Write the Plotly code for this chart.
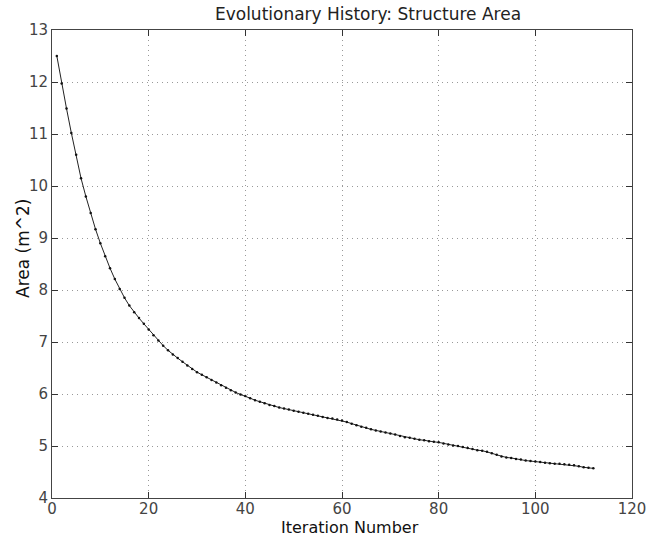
import plotly.graph_objects as go

iterations = list(range(1, 113))
area = [
    12.50, 11.97, 11.49, 11.02, 10.60, 10.15, 9.80, 9.48, 9.17, 8.90,
    8.65, 8.42, 8.21, 8.02, 7.85, 7.70, 7.57, 7.46, 7.35, 7.24,
    7.13, 7.03, 6.93, 6.84, 6.76, 6.69, 6.62, 6.55, 6.48, 6.42,
    6.37, 6.32, 6.27, 6.22, 6.17, 6.12, 6.07, 6.03, 5.99, 5.96,
    5.92, 5.88, 5.85, 5.82, 5.79, 5.77, 5.74, 5.72, 5.70, 5.68,
    5.66, 5.64, 5.62, 5.60, 5.58, 5.56, 5.54, 5.53, 5.51, 5.49,
    5.46, 5.43, 5.40, 5.37, 5.35, 5.32, 5.30, 5.28, 5.26, 5.24,
    5.22, 5.19, 5.17, 5.16, 5.14, 5.12, 5.11, 5.09, 5.08, 5.07,
    5.05, 5.03, 5.01, 5.00, 4.98, 4.96, 4.94, 4.92, 4.91, 4.89,
    4.86, 4.83, 4.80, 4.78, 4.77, 4.75, 4.74, 4.72, 4.71, 4.70,
    4.69, 4.68, 4.67, 4.66, 4.66, 4.65, 4.64, 4.63, 4.61, 4.59,
    4.58, 4.57,
]
x_ticks = [0, 20, 40, 60, 80, 100, 120]
y_ticks = [4, 5, 6, 7, 8, 9, 10, 11, 12, 13]

title_text = "Evolutionary History: Structure Area"
x_title = "Iteration Number"
y_title = "Area (m^2)"

fig = go.Figure()
fig.add_trace(go.Scatter(
    x=iterations, y=area, mode="lines+markers",
    line=dict(color="#222", width=1),
    marker=dict(color="#111", size=2.5),
    showlegend=False,
))

font = "DejaVu Sans, Liberation Sans, sans-serif"
axis_common = dict(
    showline=True, linecolor="#444", linewidth=1, mirror="ticks",
    ticks="inside", ticklen=6, tickcolor="#333",
    showgrid=True, gridcolor="#999", griddash="1px,4px", gridwidth=1,
    zeroline=False, automargin=False,
    tickfont=dict(family=font, size=15, color="#444"),
)
fig.update_xaxes(range=[0, 120], tickvals=x_ticks, ticklabelstandoff=-3, **axis_common)
fig.update_yaxes(range=[4, 13], tickvals=y_ticks, **axis_common)

W, H = 660, 538
L, T, R, B = 52, 30, 28, 40
pw, ph = W - L - R, H - T - B

def px_to_paper_x(px):
    return (px - L) / pw

def px_to_paper_y(py):
    return (H - B - py) / ph

fig.update_layout(
    width=W, height=H,
    margin=dict(l=L, r=R, t=T, b=B),
    paper_bgcolor="white", plot_bgcolor="white",
    title=dict(text=title_text, xref="container", yref="container",
               x=368 / W, xanchor="center", y=1 - 14 / H, yanchor="middle",
               font=dict(family=font, size=17, color="#222")),
    annotations=[
        dict(text=x_title, xref="paper", yref="paper",
             x=px_to_paper_x(350), y=px_to_paper_y(527.5),
             xanchor="center", yanchor="middle", showarrow=False,
             font=dict(family=font, size=16, color="#111")),
        dict(text=y_title, xref="paper", yref="paper",
             x=px_to_paper_x(23), y=px_to_paper_y(249),
             xanchor="center", yanchor="middle", showarrow=False, textangle=-90,
             font=dict(family=font, size=17, color="#111")),
    ],
)

# Remove the browser's default 8px body margin so the figure fills the window.
fig.write_html("out.html", config={"displayModeBar": False},
               post_script="document.body.style.margin='0';")
